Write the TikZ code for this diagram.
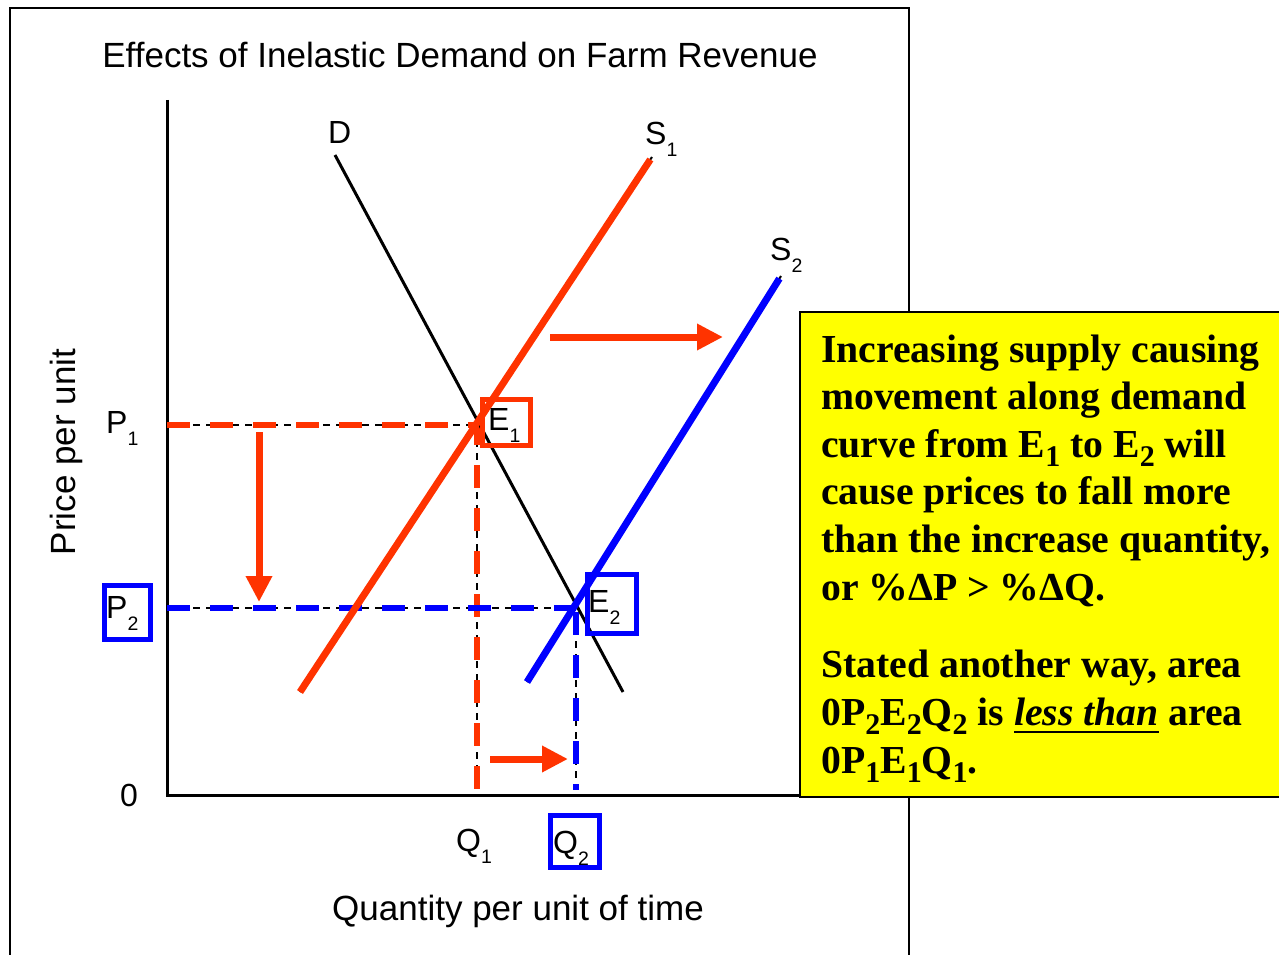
\documentclass[tikz,border=0pt]{standalone}
\usepackage{fontspec}
\setmainfont{Liberation Serif}
\newfontfamily\lab{Liberation Sans}
\usetikzlibrary{arrows.meta}
\definecolor{redor}{RGB}{255,51,0}
\definecolor{pblue}{RGB}{0,0,255}
\definecolor{pyellow}{RGB}{255,255,0}
\newcommand\lsub[1]{\raisebox{-12pt}{\fontsize{19.5}{19.5}\selectfont #1}}
\newcommand\tsub[1]{\raisebox{-9pt}{\fontsize{30}{30}\selectfont #1}}
\newcommand\myul[1]{\setbox0\hbox{#1}\rlap{\rule[-8pt]{\wd0}{2.5pt}}\box0\relax}
\tikzset{
 lbl/.style={font=\lab\fontsize{32}{32}\selectfont, inner sep=0pt, anchor=base west},
 ax/.style={line width=3pt, black, line join=miter},
 thindash/.style={line width=2pt, black, dash pattern=on 7pt off 6pt},
 reddash/.style={line width=5.5pt, redor, dash pattern=on 23pt off 20pt},
 bluedash/.style={line width=5.5pt, pblue, dash pattern=on 23pt off 20pt},
 demand/.style={line width=3pt, black},
 under/.style={line width=2pt, black},
 supply/.style={line width=7pt},
 hl/.style={line width=5pt},
 shiftarrow/.style={line width=7pt, redor, -{Triangle[length=26pt,width=25pt]}},
 txt/.style={font=\fontsize{39.7}{47.6}\selectfont\bfseries, inner sep=0pt, anchor=base west},
 bigsans/.style={font=\lab\fontsize{35}{35}\selectfont, inner sep=0pt},
}
\begin{document}
\begin{tikzpicture}[x=1pt,y=-1pt]
\useasboundingbox (0,0) rectangle (1279,955);
\fill[white] (0,0) rectangle (1279,955);
% frame
\draw[line width=2.5pt] (10,965) -- (10,8) -- (909,8) -- (909,965);
% title and axis labels
\node[bigsans, anchor=base] (title) at (460,68) {Effects of Inelastic Demand on Farm Revenue};
\node[bigsans, anchor=base, rotate=90] (ylab) at (75,452) {Price per unit};
\node[bigsans, anchor=base] (xlab) at (518,920) {Quantity per unit of time};
% key points
\coordinate (O) at (167,795);
\coordinate (Ytop) at (167,100);
\coordinate (Xend) at (800,795);
\coordinate (E1) at (477,425);
\coordinate (E2) at (576,608);
\coordinate (P1pt) at (167,425);
\coordinate (P2pt) at (167,608);
\coordinate (Q1pt) at (477,790);
\coordinate (Q2pt) at (576,790);
% axes
\draw[ax] (Ytop) -- (O) -- (Xend);
% guide lines
\draw[thindash] (P1pt) -- (E1) -- (Q1pt);
\draw[thindash] (P2pt) -- (E2) -- (Q2pt);
\draw[reddash] (P1pt) -- (E1);
\draw[reddash, dash phase=-40pt] (E1) -- (Q1pt);
\draw[bluedash] (P2pt) -- (E2);
\draw[bluedash, dash phase=-4pt] (E2) -- (Q2pt);
% demand
\coordinate (Dt) at (335,155);
\coordinate (Db) at (623,692);
\draw[demand] (Dt) -- (Db);
% supply curves
\coordinate (S1b) at (300,692);
\coordinate (S1t) at (652,157);
\coordinate (S2b) at (527,682);
\coordinate (S2t) at (781,276);
\draw[under] (S1b) -- (S1t);
\draw[under] (S2b) -- (S2t);
\draw[supply, redor, shorten >=3pt] (S1b) -- (S1t);
\draw[supply, pblue, shorten >=3pt] (S2b) -- (S2t);
% highlight boxes
\draw[hl, redor] (482,399) rectangle (530,445);
\draw[hl, pblue] (587,574) rectangle (636,633);
\draw[hl, pblue] (104.5,585.5) rectangle (150.5,639.5);
\draw[hl, pblue] (550.5,815.5) rectangle (599.5,867.5);
% shift arrows
\coordinate (a1s) at (259,432);
\coordinate (a1e) at (259,602);
\coordinate (a2s) at (550,337);
\coordinate (a2e) at (723,337);
\coordinate (a3s) at (490,759);
\coordinate (a3e) at (568,759);
\draw[shiftarrow] (a1s) -- (a1e);
\draw[shiftarrow] (a2s) -- (a2e);
\draw[shiftarrow] (a3s) -- (a3e);
% labels
\node[lbl] (Dl) at (328,143) {D};
\node[lbl] (S1l) at (645,145) {S\lsub{1}};
\node[lbl] (S2l) at (770,260) {S\lsub{2}};
\node[lbl] (P1l) at (106,433) {P\lsub{1}};
\node[lbl] (P2l) at (106,618) {P\lsub{2}};
\node[lbl] (zero) at (120,806) {0};
\node[lbl] (Q1l) at (456,851) {Q\lsub{1}};
\node[lbl] (Q2l) at (553,853) {Q\lsub{2}};
\node[lbl] (E1l) at (488,430) {E\lsub{1}};
\node[lbl] (E2l) at (588,612) {E\lsub{2}};
% note box
\filldraw[fill=pyellow, draw=black, line width=2.5pt] (800,312) rectangle (1290,797);
\node[txt] (t1) at (821,362) {Increasing supply causing};
\node[txt] (t2) at (821,409.6) {movement along demand};
\node[txt] (t3) at (821,457.2) {curve from E\tsub{1} to E\tsub{2} will};
\node[txt] (t4) at (821,504.8) {cause prices to fall more};
\node[txt] (t5) at (821,552.4) {than the increase quantity,};
\node[txt] (t6) at (821,600) {or \%ΔP > \%ΔQ.};
\node[txt] (t7) at (821,677.7) {Stated another way, area};
\node[txt] (t8) at (821,725) {0P\tsub{2}E\tsub{2}Q\tsub{2} is \myul{\textit{less than}} area};
\node[txt] (t9) at (821,773) {0P\tsub{1}E\tsub{1}Q\tsub{1}.};
\end{tikzpicture}
\end{document}
